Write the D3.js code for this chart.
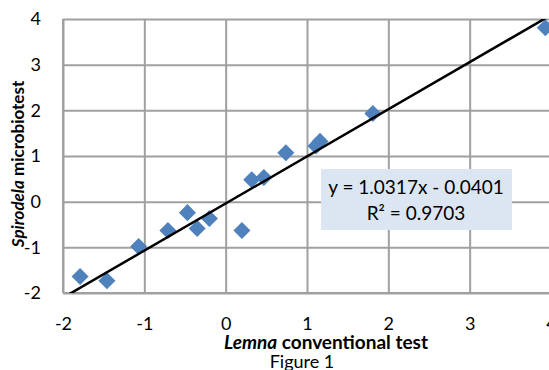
<!DOCTYPE html>
<html>
<head>
<meta charset="utf-8">
<script src="https://cdn.jsdelivr.net/npm/d3@7"></script>
<style>
  html, body { margin: 0; padding: 0; background: #fff; }
  svg { display: block; font-family: Lato, "Open Sans", sans-serif; }
</style>
</head>
<body>
<div id="chart"></div>
<script>
// values
const lemnaValues = [-1.79, -1.46, -1.07, -0.71, -0.47, -0.35, -0.20, 0.20, 0.32, 0.47, 0.74, 1.11, 1.16, 1.81, 3.93];
const spirodelaValues = [-1.64, -1.73, -0.98, -0.63, -0.24, -0.59, -0.37, -0.63, 0.48, 0.53, 1.07, 1.22, 1.32, 1.93, 3.81];
const xTicks = [-2, -1, 0, 1, 2, 3, 4];
const yTicks = [-2, -1, 0, 1, 2, 3, 4];
const slope = 1.0317;
const intercept = -0.0401;
const equationLines = ['y = 1.0317x - 0.0401', 'R² = 0.9703'];

const width = 549, height = 370;
const margin = { top: 19, right: -2, bottom: 77, left: 63 };
const innerWidth = width - margin.left - margin.right;
const innerHeight = height - margin.top - margin.bottom;

const svg = d3.select('#chart').append('svg')
  .attr('width', width)
  .attr('height', height);

const g = svg.append('g')
  .attr('transform', `translate(${margin.left},${margin.top})`);

const x = d3.scaleLinear().domain([-2, 4]).range([0, innerWidth]);
const y = d3.scaleLinear().domain([-2, 4]).range([innerHeight, 0]);

const gridColor = '#a0a0a0';
const plainFormat = d => String(d); // hyphen minus, like the original

// grid
g.append('g')
  .attr('transform', `translate(0,${innerHeight})`)
  .call(d3.axisBottom(x).tickValues(xTicks).tickSize(-innerHeight).tickFormat(''))
  .call(s => s.select('.domain').remove())
  .call(s => s.selectAll('.tick text').remove())
  .call(s => s.selectAll('.tick line').attr('stroke', gridColor).attr('stroke-width', 2));

g.append('g')
  .call(d3.axisLeft(y).tickValues(yTicks).tickSize(-innerWidth).tickFormat(''))
  .call(s => s.select('.domain').remove())
  .call(s => s.selectAll('.tick text').remove())
  .call(s => s.selectAll('.tick line').attr('stroke', gridColor).attr('stroke-width', 2));

// tick labels
g.append('g')
  .attr('transform', `translate(0,${innerHeight})`)
  .call(d3.axisBottom(x).tickValues(xTicks).tickSize(0).tickPadding(0).tickFormat(plainFormat))
  .call(s => s.select('.domain').remove())
  .call(s => s.selectAll('.tick text')
    .attr('dy', null)
    .attr('y', 37)
    .attr('fill', '#000')
    .style('font-size', '18px')
    .style('font-family', 'Lato, sans-serif'));

g.append('g')
  .call(d3.axisLeft(y).tickValues(yTicks).tickSize(0).tickPadding(22).tickFormat(plainFormat))
  .call(s => s.select('.domain').remove())
  .call(s => s.selectAll('.tick text')
    .attr('fill', '#000')
    .style('font-size', '18px')
    .style('font-family', 'Lato, sans-serif'));

// axis lines (left and bottom)
g.append('line')
  .attr('x1', 0).attr('x2', 0).attr('y1', 0).attr('y2', innerHeight)
  .attr('stroke', gridColor).attr('stroke-width', 2);
g.append('line')
  .attr('x1', 0).attr('x2', innerWidth).attr('y1', innerHeight).attr('y2', innerHeight)
  .attr('stroke', gridColor).attr('stroke-width', 2);

// points
const points = lemnaValues.map((v, i) => ({ x: v, y: spirodelaValues[i] }));
g.append('g').selectAll('path')
  .data(points)
  .enter()
  .append('path')
  .attr('d', d3.symbol().type(d3.symbolSquare).size(145))
  .attr('transform', d => `translate(${x(d.x)},${y(d.y)}) rotate(45)`)
  .attr('fill', '#4f81bd');

// trendline, clipped to the plot area
svg.append('defs').append('clipPath').attr('id', 'plot-clip')
  .append('rect').attr('width', innerWidth).attr('height', innerHeight);

const trendX = [-2, 4];
g.append('line')
  .attr('clip-path', 'url(#plot-clip)')
  .attr('x1', x(trendX[0])).attr('y1', y(slope * trendX[0] + intercept))
  .attr('x2', x(trendX[1])).attr('y2', y(slope * trendX[1] + intercept))
  .attr('stroke', '#000')
  .attr('stroke-width', 2.5);

// equation box
const box = svg.append('g');
box.append('rect')
  .attr('x', 321).attr('y', 169)
  .attr('width', 191).attr('height', 61)
  .attr('fill', '#dce6f2');
box.selectAll('text')
  .data(equationLines)
  .enter()
  .append('text')
  .attr('x', 416)
  .attr('y', (d, i) => 194 + i * 26)
  .attr('text-anchor', 'middle')
  .style('font-size', '19px')
  .text(d => d);

// axis titles
const xTitle = svg.append('text')
  .attr('x', 326)
  .attr('y', 349)
  .attr('text-anchor', 'middle')
  .style('font-size', '19px')
  .style('font-weight', 'bold');
xTitle.append('tspan').style('font-style', 'italic').text('Lemna');
xTitle.append('tspan').text(' conventional test');

svg.append('text')
  .attr('x', 302)
  .attr('y', 368)
  .attr('text-anchor', 'middle')
  .style('font-size', '18px')
  .text('Figure 1');

const yTitle = svg.append('text')
  .attr('transform', `translate(24,${margin.top + innerHeight / 2 + 8}) rotate(-90)`)
  .attr('text-anchor', 'middle')
  .style('font-size', '17px')
  .style('font-weight', 'bold');
yTitle.append('tspan').style('font-style', 'italic').text('Spirodela');
yTitle.append('tspan').text(' microbiotest');
</script>
</body>
</html>
